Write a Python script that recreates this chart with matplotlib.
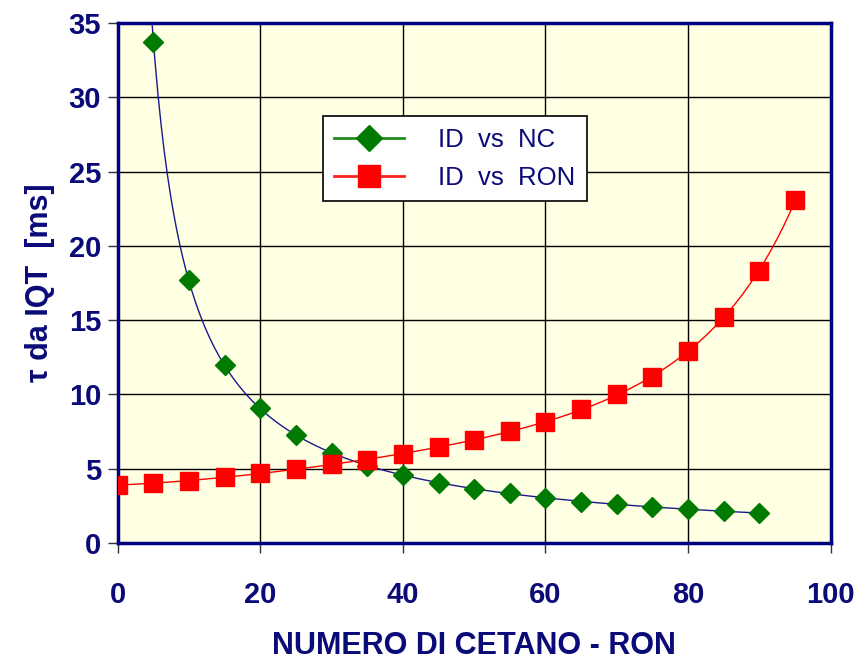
import numpy as np
import matplotlib.pyplot as plt

plt.rcParams['font.family'] = ['Liberation Sans', 'DejaVu Sans']

navy = '#0A0A78'

# ID vs NC (numero di cetano)
nc_x = [5, 10, 15, 20, 25, 30, 35, 40, 45, 50, 55, 60, 65, 70, 75, 80, 85, 90]
nc_y = [33.7, 17.7, 12.0, 9.08, 7.27, 6.06, 5.2, 4.58, 4.04, 3.63, 3.36, 3.03,
        2.76, 2.62, 2.42, 2.29, 2.15, 2.02]

# ID vs RON
ron_x = [0, 5, 10, 15, 20, 25, 30, 35, 40, 45, 50, 55, 60, 65, 70, 75, 80, 85, 90, 95]
ron_y = [3.9, 4.04, 4.17, 4.44, 4.7, 4.98, 5.3, 5.6, 6.0, 6.46, 6.93, 7.54, 8.14,
         9.0, 10.0, 11.2, 12.9, 15.2, 18.3, 23.1]

fig = plt.figure(figsize=(8.59, 6.59), dpi=100)
ax = fig.add_axes([0.137, 0.176, 0.83, 0.789])
ax.set_facecolor('#FFFFE3')

# trend curve for NC: fit in log-log space
c1 = np.polyfit(np.log(nc_x), np.log(nc_y), 2)
xs1 = np.linspace(4.6, 90, 400)
ax.plot(xs1, np.exp(np.polyval(c1, np.log(xs1))), color='#1A1A8C', lw=1, zorder=3)

# smooth curve for RON: fit of log(y)
c2 = np.polyfit(ron_x, np.log(ron_y), 4)
xs2 = np.linspace(0, 95, 400)
ax.plot(xs2, np.exp(np.polyval(c2, xs2)), color='red', lw=1, zorder=3)

ax.plot(nc_x, nc_y, ls='none', marker='D', ms=10.5, color='#007A00', zorder=4)
ax.plot(ron_x, ron_y, ls='none', marker='s', ms=13, color='#FF0000', zorder=5)

# legend handles
h1, = ax.plot([], [], color='#228B22', lw=2, marker='D', ms=13, mfc='#007A00', mec='#007A00')
h2, = ax.plot([], [], color='#FF2020', lw=2, marker='s', ms=15.5, mfc='#FF0000', mec='#FF0000')
leg = ax.legend([h1, h2], ['ID  vs  NC', 'ID  vs  RON'],
                loc='upper left', bbox_to_anchor=(0.2875, 0.821), frameon=True,
                fancybox=False, edgecolor='black', framealpha=1,
                handlelength=2.7, handletextpad=1.35, borderpad=0.45,
                labelspacing=0.55, borderaxespad=0, prop={'size': 18.5})
leg.get_frame().set_linewidth(1.2)
for t in leg.get_texts():
    t.set_color(navy)

ax.set_xlim(0, 100)
ax.set_ylim(0, 35)
ax.set_xticks(np.arange(0, 101, 20))
ax.set_yticks(np.arange(0, 36, 5))
ax.grid(True, color='black', lw=1)
ax.set_axisbelow(True)

for s in ax.spines.values():
    s.set_color('#000080')
    s.set_linewidth(2.5)

ax.tick_params(axis='both', direction='out', length=7, width=1, color='#333333',
               labelsize=21, labelcolor=navy)
ax.tick_params(axis='x', pad=20)
ax.tick_params(axis='y', pad=5)
for lab in ax.get_xticklabels() + ax.get_yticklabels():
    lab.set_fontweight('bold')

ax.set_xlabel('NUMERO DI CETANO - RON', fontsize=22, fontweight='bold', color=navy, labelpad=16)
ax.set_ylabel('τ da IQT  [ms]', fontsize=22, fontweight='bold', color=navy, labelpad=10)

fig.savefig('out.png', dpi=100)
